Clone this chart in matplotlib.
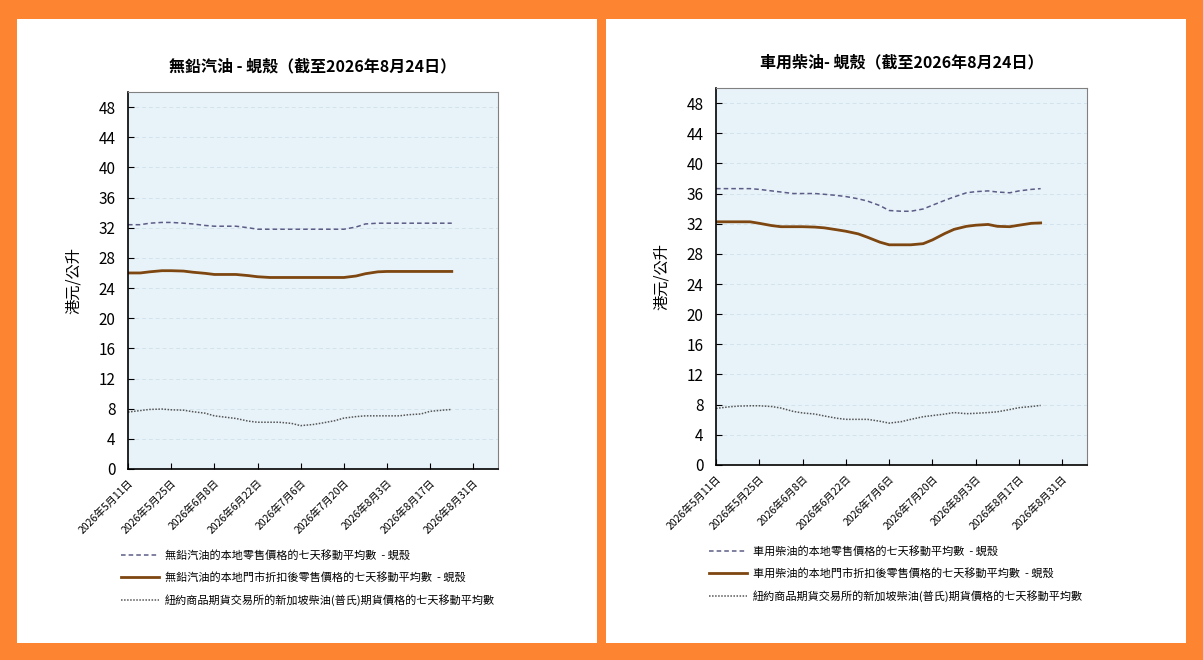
import datetime as dt

import matplotlib
matplotlib.use('Agg')
import matplotlib.pyplot as plt
from matplotlib.patches import Rectangle

plt.rcParams['font.family'] = ['Noto Sans CJK TC', 'DejaVu Sans']

# day offsets from 2026-05-11
start = dt.date(2026, 5, 11)
days = [0, 4, 7, 11, 14, 18, 21, 25, 28, 32, 35, 39, 42, 46, 49, 53, 56,
        60, 63, 67, 70, 74, 77, 81, 84, 88, 91, 95, 98, 102, 105]
dates = [start + dt.timedelta(days=d) for d in days]

# 無鉛汽油
petrol_retail = [32.4, 32.4, 32.6, 32.7, 32.7, 32.6, 32.5, 32.3, 32.2, 32.2, 32.2,
                 32.0, 31.8, 31.8, 31.8, 31.8, 31.8, 31.8, 31.8, 31.8, 31.8, 32.1,
                 32.5, 32.6, 32.6, 32.6, 32.6, 32.6, 32.6, 32.6, 32.6]
petrol_discount = [26.0, 26.0, 26.15, 26.3, 26.3, 26.25, 26.1, 25.95, 25.8, 25.8, 25.8,
                   25.65, 25.5, 25.4, 25.4, 25.4, 25.4, 25.4, 25.4, 25.4, 25.4, 25.6,
                   25.9, 26.15, 26.2, 26.2, 26.2, 26.2, 26.2, 26.2, 26.2]
petrol_futures = [7.55, 7.75, 7.9, 7.95, 7.85, 7.8, 7.6, 7.4, 7.05, 6.85, 6.7,
                  6.35, 6.2, 6.2, 6.2, 6.05, 5.75, 5.9, 6.1, 6.4, 6.75, 6.95,
                  7.05, 7.05, 7.05, 7.05, 7.2, 7.3, 7.65, 7.8, 7.9]

# 車用柴油
diesel_retail = [36.65, 36.65, 36.65, 36.65, 36.55, 36.35, 36.2, 36.0, 36.0, 36.0, 35.9,
                 35.75, 35.6, 35.3, 35.0, 34.4, 33.75, 33.65, 33.65, 33.95, 34.45, 35.1,
                 35.55, 36.1, 36.25, 36.35, 36.2, 36.1, 36.35, 36.55, 36.65]
diesel_discount = [32.25, 32.25, 32.25, 32.25, 32.05, 31.75, 31.6, 31.6, 31.6, 31.55, 31.45,
                   31.2, 31.0, 30.65, 30.2, 29.55, 29.2, 29.2, 29.2, 29.35, 29.85, 30.7,
                   31.25, 31.65, 31.8, 31.9, 31.65, 31.6, 31.8, 32.05, 32.1]
diesel_futures = [7.5, 7.7, 7.8, 7.85, 7.85, 7.75, 7.55, 7.1, 6.9, 6.75, 6.5,
                  6.2, 6.05, 6.05, 6.05, 5.8, 5.55, 5.75, 6.05, 6.4, 6.55, 6.75,
                  6.95, 6.8, 6.85, 6.95, 7.05, 7.35, 7.6, 7.75, 7.9]

tick_dates = [start + dt.timedelta(days=14 * i) for i in range(9)]
tick_labels = [f'{d.year}年{d.month}月{d.day}日' for d in tick_dates]
y_ticks = list(range(0, 49, 4))

panels = [
    dict(title='無鉛汽油 - 蜆殼（截至2026年8月24日）', name='無鉛汽油',
         series=(petrol_retail, petrol_discount, petrol_futures),
         rect=[0.1064, 0.2894, 0.3076, 0.5712], leg=(-0.045, -0.188)),
    dict(title='車用柴油- 蜆殼（截至2026年8月24日）', name='車用柴油',
         series=(diesel_retail, diesel_discount, diesel_futures),
         rect=[0.5952, 0.2955, 0.3084, 0.5712], leg=(-0.045, -0.188)),
]

orange = '#FD8430'
fig = plt.figure(figsize=(12.03, 6.6), dpi=100, facecolor=orange)

# white panels
for x0 in (17, 606):
    fig.patches.append(Rectangle((x0 / 1203, 17 / 660), 580 / 1203, 624 / 660,
                                 transform=fig.transFigure, facecolor='white',
                                 edgecolor='none', zorder=-5))

for p in panels:
    ax = fig.add_axes(p['rect'])
    ax.set_facecolor('#E8F3F9')
    retail, discount, futures = p['series']
    ax.plot(dates, retail, color='#5C5C86', lw=1.1, ls=(0, (3, 2)),
            label=f"{p['name']}的本地零售價格的七天移動平均數  - 蜆殼")
    ax.plot(dates, discount, color='#7E4610', lw=2.0,
            label=f"{p['name']}的本地門市折扣後零售價格的七天移動平均數  - 蜆殼")
    ax.plot(dates, futures, color='#555555', lw=1.1, ls=(0, (1, 1)),
            label='紐約商品期貨交易所的新加坡柴油(普氏)期貨價格的七天移動平均數')

    ax.set_xlim(start, start + dt.timedelta(days=120))
    ax.set_ylim(0, 50)
    ax.set_yticks(y_ticks)
    ax.set_yticklabels([str(v) for v in y_ticks], fontsize=11)
    ax.set_xticks(tick_dates)
    ax.set_xticklabels(tick_labels, rotation=45, ha='right', rotation_mode='anchor',
                       fontsize=7.5)
    ax.tick_params(direction='in', length=4, color='black', pad=6)
    ax.tick_params(axis='y', pad=9)
    ax.grid(axis='y', color='#D3E3EC', ls=(0, (4, 3)), lw=0.7)
    ax.set_axisbelow(True)
    for s in ('top', 'right'):
        ax.spines[s].set_color('#808080')
    for s in ('left', 'bottom'):
        ax.spines[s].set_color('black')
        ax.spines[s].set_linewidth(1.2)

    ax.set_title(p['title'], fontsize=11.5, fontweight='bold', pad=15)
    ax.set_ylabel('港元/公升', fontsize=11, labelpad=12)
    ax.legend(loc='upper left', bbox_to_anchor=p['leg'], frameon=False,
              fontsize=8, handlelength=3.4, handletextpad=0.5, labelspacing=1.0)

fig.savefig('out.png', dpi=100, facecolor=orange)
